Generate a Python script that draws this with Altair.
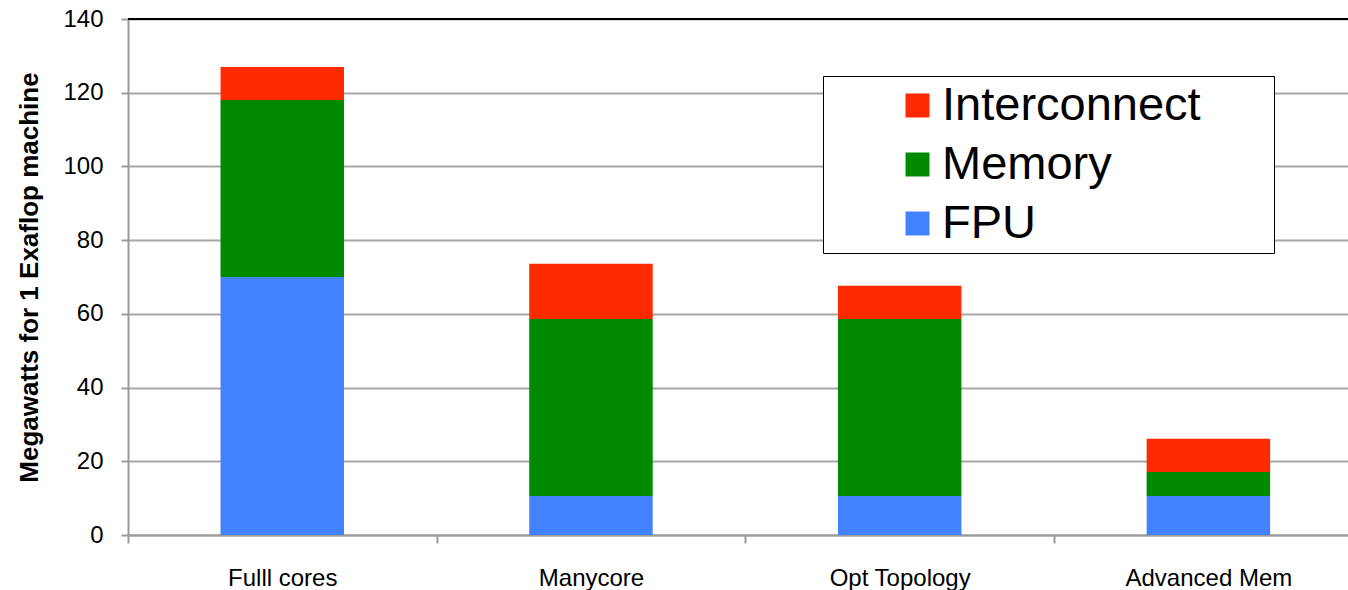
import altair as alt
import pandas as pd

# Power budget per design point, megawatts for a 1 exaflop machine
designs = ["Fulll cores", "Manycore", "Opt Topology", "Advanced Mem"]
fpu = [70, 10.6, 10.6, 10.6]
memory = [48, 48, 48, 6.5]
interconnect = [9, 15, 9, 9]

components = ["Interconnect", "Memory", "FPU"]
colors = ["#FF2A00", "#008A00", "#4282FF"]
stack_rank = {"FPU": 0, "Memory": 1, "Interconnect": 2}

rows = []
for i, d in enumerate(designs):
    for comp, vals in (("FPU", fpu), ("Memory", memory), ("Interconnect", interconnect)):
        rows.append({"design": d, "component": comp, "mw": vals[i], "rank": stack_rank[comp]})
df = pd.DataFrame(rows)

FONT = "Liberation Sans"
PLOT_W = 1220
PAD_INNER, PAD_OUTER = 0.6, 0.276
STEP = PLOT_W / (len(designs) - PAD_INNER + 2 * PAD_OUTER)

bars = alt.Chart(df).mark_bar().encode(
    x=alt.X(
        "design:N",
        sort=designs,
        title=None,
        # last band runs past the right edge of the view
        scale=alt.Scale(paddingInner=PAD_INNER, paddingOuter=PAD_OUTER, align=0.543),
        axis=alt.Axis(
            labelAngle=0,
            labelFontSize=24,
            labelFont=FONT,
            labelColor="#000000",
            labelPadding=23,
            # ticks sit on the category boundaries, labels stay centred
            tickOffset=-STEP / 2,
            labelOffset=STEP / 2,
            tickSize=8,
            tickColor="#9a9a9a",
            tickWidth=2,
            domainColor="#9a9a9a",
            domainWidth=2,
            grid=False,
        ),
    ),
    y=alt.Y(
        "mw:Q",
        stack="zero",
        title="Megawatts for 1 Exaflop machine",
        scale=alt.Scale(domain=[0, 140], nice=False),
        axis=alt.Axis(
            values=list(range(0, 141, 20)),
            labelFontSize=24,
            labelFont=FONT,
            labelColor="#000000",
            labelPadding=18,
            tickSize=7,
            tickColor="#9a9a9a",
            tickWidth=2,
            domainColor="#9a9a9a",
            domainWidth=2,
            gridColor="#a6a6a6",
            gridWidth=2,
            titleFontSize=26,
            titleFont=FONT,
            titleFontWeight="bold",
            titleColor="#000000",
            titlePadding=20,
        ),
    ),
    color=alt.Color(
        "component:N",
        scale=alt.Scale(domain=components, range=colors),
        legend=alt.Legend(
            title="\u00a0",
            titleOrient="right",
            titlePadding=67,
            titleFontSize=10,
            orient="none",
            legendX=695,
            legendY=57,
            symbolType="square",
            symbolSize=576,
            symbolStrokeWidth=0,
            symbolOffset=65,
            labelFontSize=47,
            labelFont=FONT,
            labelColor="#000000",
            labelOffset=1,
            labelLimit=600,
            rowPadding=11,
            padding=6,
            fillColor="#ffffff",
            strokeColor="#000000",
        ),
    ),
    order=alt.Order("rank:Q", sort="ascending"),
)

top_line = alt.Chart(pd.DataFrame({"y": [140]})).mark_rule(
    color="#000000", strokeWidth=2
).encode(y="y:Q")

chart = (
    alt.layer(bars, top_line)
    .properties(
        width=PLOT_W,
        height=516,
        autosize=alt.AutoSizeParams(type="none"),
        padding={"left": 128, "top": 19, "right": 0, "bottom": 55},
    )
    .configure_view(stroke=None)
    .configure_legend(strokeColor="#000000", strokeWidth=2)
    .configure(background="#ffffff")
)

chart.save("out.html", embed_options={"renderer": "svg", "actions": False})
